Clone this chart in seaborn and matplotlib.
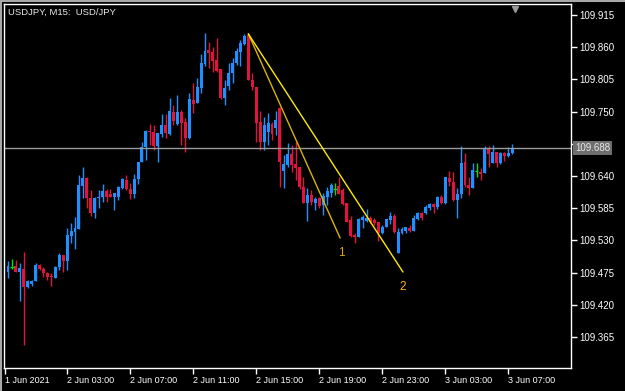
import numpy as np
import pandas as pd
import matplotlib
matplotlib.use("Agg")
import matplotlib.pyplot as plt
import matplotlib.transforms as mtransforms
from matplotlib.lines import Line2D
import seaborn as sns

# ---------- data (USDJPY M15) ----------
caption = "USDJPY, M15:  USD/JPY"
first_bar_time = "2021-06-01 23:15"
first_label = "1 Jun 2021"

opens = [
    109.476, 109.485, 109.487, 109.476, 109.482, 109.451, 109.456, 109.461, 109.488, 109.482,
    109.475, 109.470, 109.466, 109.485, 109.505, 109.494, 109.538, 109.545, 109.550, 109.623,
    109.637, 109.603, 109.577, 109.603, 109.605, 109.615, 109.610, 109.605, 109.605, 109.620,
    109.634, 109.618, 109.610, 109.635, 109.664, 109.690, 109.717, 109.716, 109.692, 109.712,
    109.727, 109.712, 109.750, 109.729, 109.750, 109.733, 109.705, 109.770, 109.765, 109.791,
    109.832, 109.856, 109.852, 109.839, 109.823, 109.774, 109.794, 109.816, 109.833, 109.852,
    109.866, 109.881, 109.804, 109.792, 109.733, 109.698, 109.716, 109.729, 109.722, 109.757,
    109.649, 109.659, 109.678, 109.661, 109.656, 109.622, 109.594, 109.608, 109.594, 109.603,
    109.591, 109.605, 109.611, 109.618, 109.623, 109.617, 109.594, 109.565, 109.540, 109.536,
    109.565, 109.564, 109.569, 109.565, 109.562, 109.543, 109.553, 109.565, 109.572, 109.509,
    109.543, 109.546, 109.552, 109.546, 109.567, 109.577, 109.577, 109.586, 109.593, 109.587,
    109.605, 109.594, 109.637, 109.630, 109.599, 109.610, 109.664, 109.625, 109.620, 109.649,
    109.647, 109.645, 109.688, 109.663, 109.681, 109.663, 109.680, 109.675, 109.680,
]
highs = [
    109.494, 109.499, 109.497, 109.492, 109.511, 109.463, 109.463, 109.492, 109.490, 109.485,
    109.476, 109.475, 109.487, 109.509, 109.505, 109.552, 109.560, 109.570, 109.642, 109.656,
    109.639, 109.617, 109.605, 109.617, 109.627, 109.618, 109.618, 109.611, 109.623, 109.637,
    109.642, 109.628, 109.644, 109.664, 109.698, 109.719, 109.729, 109.727, 109.714, 109.746,
    109.746, 109.774, 109.762, 109.779, 109.753, 109.739, 109.782, 109.799, 109.808, 109.849,
    109.885, 109.869, 109.861, 109.876, 109.823, 109.804, 109.833, 109.842, 109.859, 109.873,
    109.882, 109.883, 109.816, 109.792, 109.751, 109.741, 109.748, 109.733, 109.751, 109.758,
    109.676, 109.697, 109.693, 109.698, 109.656, 109.639, 109.620, 109.617, 109.605, 109.605,
    109.611, 109.622, 109.628, 109.628, 109.639, 109.620, 109.594, 109.572, 109.543, 109.569,
    109.574, 109.584, 109.572, 109.569, 109.562, 109.557, 109.567, 109.579, 109.576, 109.552,
    109.553, 109.553, 109.557, 109.574, 109.579, 109.579, 109.591, 109.594, 109.594, 109.606,
    109.608, 109.639, 109.649, 109.647, 109.620, 109.692, 109.680, 109.639, 109.663, 109.663,
    109.654, 109.692, 109.692, 109.693, 109.681, 109.681, 109.681, 109.690, 109.695,
]
lows = [
    109.466, 109.482, 109.476, 109.427, 109.352, 109.449, 109.452, 109.461, 109.480, 109.468,
    109.463, 109.452, 109.466, 109.480, 109.476, 109.480, 109.526, 109.516, 109.550, 109.603,
    109.586, 109.572, 109.569, 109.586, 109.596, 109.596, 109.605, 109.582, 109.599, 109.618,
    109.617, 109.601, 109.603, 109.627, 109.664, 109.668, 109.693, 109.685, 109.664, 109.707,
    109.705, 109.710, 109.727, 109.727, 109.693, 109.681, 109.704, 109.748, 109.765, 109.782,
    109.828, 109.825, 109.818, 109.818, 109.772, 109.762, 109.787, 109.799, 109.830, 109.828,
    109.864, 109.804, 109.787, 109.698, 109.685, 109.685, 109.693, 109.702, 109.710, 109.622,
    109.620, 109.656, 109.647, 109.634, 109.618, 109.594, 109.564, 109.591, 109.582, 109.586,
    109.574, 109.591, 109.605, 109.608, 109.610, 109.591, 109.562, 109.536, 109.526, 109.536,
    109.552, 109.562, 109.560, 109.557, 109.529, 109.541, 109.553, 109.558, 109.543, 109.509,
    109.541, 109.543, 109.545, 109.546, 109.565, 109.565, 109.576, 109.582, 109.577, 109.584,
    109.593, 109.593, 109.623, 109.598, 109.569, 109.603, 109.622, 109.608, 109.620, 109.639,
    109.634, 109.645, 109.656, 109.663, 109.656, 109.661, 109.666, 109.673, 109.678,
]
closes = [
    109.487, 109.485, 109.476, 109.483, 109.451, 109.461, 109.461, 109.488, 109.482, 109.475,
    109.468, 109.468, 109.485, 109.505, 109.494, 109.540, 109.546, 109.552, 109.625, 109.637,
    109.603, 109.577, 109.603, 109.605, 109.615, 109.605, 109.605, 109.611, 109.622, 109.635,
    109.618, 109.610, 109.635, 109.664, 109.690, 109.717, 109.716, 109.692, 109.714, 109.727,
    109.714, 109.751, 109.734, 109.750, 109.731, 109.705, 109.772, 109.763, 109.792, 109.833,
    109.854, 109.851, 109.837, 109.820, 109.774, 109.791, 109.816, 109.833, 109.854, 109.868,
    109.880, 109.804, 109.792, 109.731, 109.698, 109.727, 109.731, 109.712, 109.736, 109.664,
    109.661, 109.678, 109.659, 109.654, 109.622, 109.594, 109.608, 109.596, 109.601, 109.589,
    109.606, 109.615, 109.625, 109.618, 109.610, 109.593, 109.562, 109.538, 109.536, 109.567,
    109.570, 109.569, 109.562, 109.560, 109.543, 109.553, 109.567, 109.572, 109.545, 109.545,
    109.550, 109.553, 109.546, 109.569, 109.577, 109.569, 109.587, 109.593, 109.587, 109.605,
    109.594, 109.639, 109.630, 109.599, 109.610, 109.663, 109.625, 109.620, 109.651, 109.649,
    109.644, 109.688, 109.678, 109.681, 109.663, 109.680, 109.675, 109.680, 109.688,
]

# price scale ticks shown on the right
price_ticks = [109.915, 109.860, 109.805, 109.750, 109.695, 109.640,
               109.585, 109.530, 109.475, 109.420, 109.365]
bid_price = 109.688

# trend lines drawn on the chart: common start (bar, price) and two end points
trend_start = (61, 109.883)
trend_ends = [(84.3, 109.534), (100.25, 109.476)]
trend_labels = ["1", "2"]
trend_label_pos = [(84.5, 109.509), (100.3, 109.451)]

# ---------- frame ----------
df = pd.DataFrame({"open": opens, "high": highs, "low": lows, "close": closes})
df["time"] = pd.date_range(first_bar_time, periods=len(df), freq="15min")
df["bar"] = np.arange(len(df))

bull_col = "#1E90FF"
bear_col = "#E0143C"
doji_col = "#00E000"
df["color"] = np.where(df["close"] > df["open"], bull_col,
                       np.where(df["close"] < df["open"], bear_col, doji_col))

sns.set_theme(style="dark", rc={
    "figure.facecolor": "black",
    "axes.facecolor": "black",
    "axes.edgecolor": "white",
    "axes.linewidth": 1.0,
    "text.color": "white",
    "xtick.color": "white",
    "ytick.color": "white",
})
plt.rcParams["font.family"] = ["Liberation Sans", "DejaVu Sans"]

fig, ax = plt.subplots(figsize=(6.25, 3.91), dpi=100)
fig.subplots_adjust(left=0.0064, right=0.9136, bottom=0.0588, top=0.9898)

# candles: wicks then bodies
ax.vlines(df["bar"], df["low"], df["high"], colors=df["color"], linewidth=1.0)
body_lo = df[["open", "close"]].min(axis=1)
body_hi = df[["open", "close"]].max(axis=1)
ax.bar(df["bar"], body_hi - body_lo, bottom=body_lo, width=0.75,
       color=df["color"], linewidth=0)
doji = df[df["open"] == df["close"]]
ax.hlines(doji["open"], doji["bar"] - 0.4, doji["bar"] + 0.4, colors=doji_col, linewidth=1.0)

# bid line
ax.axhline(bid_price, color="#9A9A9A", linewidth=1.0)

# trend lines
line_cols = ["#D9B400", "#FFEA00"]
label_cols = ["#D8A21A", "#FFB61E"]
for (ex, ey), lc, lab, (lx, ly), tc in zip(trend_ends, line_cols, trend_labels,
                                           trend_label_pos, label_cols):
    sns.lineplot(x=[trend_start[0], ex], y=[trend_start[1], ey], color=lc,
                 linewidth=1.0, ax=ax, sort=False)
    ax.text(lx, ly, lab, color=tc, fontsize=8.5, ha="center", va="center")

# axes limits
ax.set_xlim(-1.02, 142.9)
ax.set_ylim(109.312, 109.934)

# time axis
tick_rows = df[(df["time"].dt.minute == 0) & (df["time"].dt.hour % 4 == 3)]
xt = [ax.get_xlim()[0] + 0.25] + list(tick_rows["bar"])
xl = [first_label] + [t.strftime("%-d %b %H:%M") for t in tick_rows["time"]]
ax.set_xticks(xt)
ax.set_xticklabels(xl)
for lab in ax.get_xticklabels():
    lab.set_ha("left")
ax.tick_params(axis="x", direction="out", length=4, width=1, labelsize=6.5, pad=1.5,
               colors="white", bottom=True)

# price axis on the right; the label under the bid box is hidden by it
ax.yaxis.tick_right()
ax.set_yticks(price_ticks)
ax.set_yticklabels(["" if abs(p - bid_price) < 0.01 else f"{p:.3f}" for p in price_ticks])
ax.tick_params(axis="y", direction="out", length=4, width=1, labelsize=7, pad=2,
               colors="white", right=True, left=False)
ax.set_xlabel("")
ax.set_ylabel("")
ax.grid(False)
for s in ax.spines.values():
    s.set_color("white")
    s.set_linewidth(1.0)

# bid price box on the scale
trans = mtransforms.blended_transform_factory(ax.transAxes, ax.transData)
ax.text(1.007, bid_price, f"{bid_price:.3f}", transform=trans, fontsize=7,
        color="#E8E8E8", ha="left", va="center", zorder=5, clip_on=False,
        bbox=dict(boxstyle="square,pad=0.2", facecolor="#6E6E6E", edgecolor="none"))

# chart shift marker
ax.plot([128.7], [0.985], marker="v", markersize=5, color="#9A9A9A",
        transform=mtransforms.blended_transform_factory(ax.transData, ax.transAxes),
        clip_on=False)

# caption
ax.text(0.007, 0.978, caption, transform=ax.transAxes, fontsize=6.8,
        color="#E8E8E8", ha="left", va="center")

# window frame edges
fig.add_artist(Line2D([0, 1], [0.998, 0.998], transform=fig.transFigure,
                      color="#A8A8A8", linewidth=1.5))
fig.add_artist(Line2D([0.0016, 0.0016], [0, 1], transform=fig.transFigure,
                      color="#A8A8A8", linewidth=1.5))

fig.savefig("out.png", dpi=100, facecolor="black")
